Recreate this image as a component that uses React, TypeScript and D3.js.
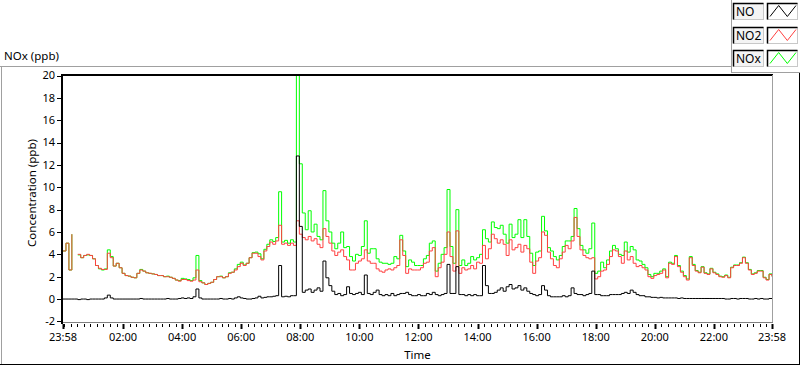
import React from "react";
import * as d3 from "d3";

// ---- data (6-minute samples starting 23:58) ----
const START = new Date(2020, 0, 1, 23, 58);
const END = new Date(2020, 0, 2, 23, 58);
const STEP_MIN = 6;

const NO2: (number | null)[] = [
  4.3, 5.0, 2.6, 5.8, null, 4.0, 3.7, 3.9, 4.0, 3.9,
  3.6, 3.0, 2.75, 2.65, 2.65, 4.1, 3.7, 2.95, 3.2, 2.8,
  2.3, 2.1, 2.05, 1.95, 1.9, 2.3, 2.6, 2.5, 2.35, 2.3,
  2.25, 2.2, 2.1, 2.1, 2.0, 2.0, 1.95, 1.85, 1.7, 1.6,
  1.75, 1.75, 1.65, 1.6, 1.7, 2.6, 1.55, 1.45, 1.3, 1.4,
  1.5, 1.75, 2.0, 2.0, 1.9, 2.0, 2.3, 2.4, 2.6, 2.9,
  3.2, 3.0, 3.2, 3.7, 4.1, 4.1, 3.8, 3.5, 4.3, 4.7,
  5.1, 4.9, 5.2, 6.6, 4.9, 5.0, 4.8, 5.0, 4.8, 7.0,
  5.8, 5.5, 5.3, 5.6, 5.2, 5.4, 4.9, 4.6, 6.3, 5.6,
  5.0, 4.3, 3.9, 4.2, 4.4, 3.8, 3.5, 2.6, 2.6, 3.2,
  3.4, 3.6, 4.4, 3.4, 3.2, 3.2, 2.7, 2.5, 2.4, 2.6,
  2.7, 2.6, 2.8, 3.0, 5.3, 3.9, 2.3, 2.7, 2.6, 2.6,
  2.6, 2.8, 3.2, 3.3, 4.3, 4.6, 2.0, 2.8, 3.3, 4.0,
  6.0, 3.8, 2.5, 6.1, 2.3, 2.8, 2.6, 2.7, 3.0, 2.7,
  3.3, 3.2, 4.8, 3.6, 4.5, 5.8, 5.4, 5.0, 5.3, 4.9,
  3.9, 5.3, 4.4, 4.6, 4.9, 4.2, 4.8, 4.5, 3.3, 2.3,
  3.4, 3.7, 6.0, 5.7, 4.2, 3.6, 3.0, 2.8, 3.6, 4.2,
  4.8, 4.5, 5.2, 7.3, 5.6, 4.4, 3.9, 3.7, 3.6, 3.7,
  1.8, 2.0, 2.5, 2.6, 3.1, 3.8, 4.4, 4.3, 3.8, 3.2,
  4.3, 3.5, 3.8, 3.2, 2.9, 3.0, 2.8, 2.6, 2.0, 1.85,
  2.1, 2.2, 2.3, 2.6, 1.9, 3.2, 3.1, 3.8, 2.9, 2.4,
  2.0, 1.7, 3.7, 3.0, 2.5, 2.35, 2.85, 2.3, 2.2, 2.7,
  2.35, 2.2, 2.0, 1.95, 2.1, 1.9, 2.8, 3.0, 3.0, 3.2,
  3.7, 3.2, 2.6, 2.2, 2.3, 2.5, 2.5, 1.9, 1.7, 2.2, 2.0,
];

const NO: (number | null)[] = [
  0.0, 0.0, 0.0, 0.0, 0.0, -0.05, 0.0, 0.0, -0.05, 0.0,
  0.0, 0.0, 0.0, 0.0, 0.1, 0.35, 0.1, 0.0, 0.0, 0.0,
  0.0, 0.0, 0.0, 0.0, 0.0, 0.0, 0.05, 0.0, 0.0, 0.0,
  0.0, 0.0, 0.0, 0.0, 0.0, 0.05, 0.0, 0.0, 0.0, 0.05,
  0.1, 0.05, 0.1, 0.05, 0.2, 0.9, 0.1, 0.0, 0.0, 0.0,
  0.0, 0.0, 0.0, 0.05, 0.0, 0.0, 0.05, 0.0, 0.1, 0.2,
  0.1, 0.05, 0.0, 0.0, 0.05, 0.1, 0.25, 0.1, 0.15, 0.2,
  0.2, 0.25, 0.3, 3.0, 0.2, 0.25, 0.2, 0.3, 0.3, 12.8,
  6.5, 0.6, 0.8, 0.9, 0.6, 0.8, 1.0, 0.7, 3.4, 1.9,
  1.2, 0.7, 0.4, 0.5, 0.3, 0.4, 1.1, 0.5, 0.4, 0.5,
  0.6, 0.4, 2.15, 0.5, 0.4, 0.6, 0.8, 0.4, 0.3, 0.4,
  0.3, 0.5, 0.3, 0.4, 0.5, 0.5, 0.6, 0.4, 0.3, 0.3,
  0.4, 0.3, 0.3, 0.5, 0.4, 0.6, 0.4, 0.3, 0.4, 0.5,
  3.1, 0.5, 0.5, 2.9, 0.4, 0.4, 0.3, 0.4, 0.3, 0.4,
  0.3, 0.3, 3.0, 1.2, 0.5, 0.5, 0.6, 0.8, 1.0, 0.7,
  1.1, 1.3, 0.9, 1.0, 1.2, 0.8, 1.0, 0.7, 0.5, 0.4,
  0.3, 0.4, 1.2, 0.8, 0.3, 0.2, 0.2, 0.2, 0.2, 0.3,
  0.2, 0.3, 1.0, 0.5, 0.4, 0.4, 0.3, 0.4, 0.5, 2.5,
  0.4, 0.4, 0.3, 0.3, 0.3, 0.4, 0.4, 0.4, 0.4, 0.5,
  0.6, 0.5, 0.8, 0.6, 0.4, 0.3, 0.3, 0.2, 0.2, 0.15,
  0.15, 0.1, 0.15, 0.1, 0.1, 0.1, 0.1, 0.1, 0.05, 0.1,
  0.05, 0.05, 0.05, 0.05, 0.05, 0.05, 0.05, 0.05, 0.05, 0.05,
  0.05, 0.05, 0.05, 0.05, 0.0, 0.0, 0.05, 0.05, 0.0, 0.05,
  0.05, 0.05, 0.0, 0.0, 0.05, 0.0, 0.05, 0.0, 0.0, 0.05, 0.0,
];

const NOX: (number | null)[] = [
  4.3, 5.0, 2.6, 5.8, null, 3.95, 3.7, 3.9, 3.95, 3.9,
  3.6, 3.0, 2.7, 2.6, 2.7, 4.4, 3.8, 2.95, 3.2, 2.8,
  2.3, 2.1, 2.05, 1.95, 1.9, 2.3, 2.65, 2.5, 2.35, 2.3,
  2.25, 2.2, 2.1, 2.1, 2.0, 2.05, 1.95, 1.85, 1.7, 1.65,
  1.85, 1.8, 1.75, 1.65, 1.9, 3.9, 1.65, 1.45, 1.3, 1.4,
  1.5, 1.75, 2.0, 2.05, 1.9, 2.0, 2.35, 2.4, 2.7, 3.1,
  3.3, 3.05, 3.2, 3.7, 4.15, 4.2, 4.05, 3.6, 4.45, 4.9,
  5.3, 5.15, 5.5, 9.6, 5.1, 5.25, 5.0, 5.3, 5.1, 20.0,
  12.1, 7.7, 6.2, 7.9, 6.0, 6.7, 5.6, 5.3, 9.7, 7.0,
  6.0, 5.0, 4.5, 5.0, 6.0, 4.6, 4.7, 3.8, 3.4, 4.0,
  3.9, 4.7, 7.0, 4.1, 4.5, 4.5, 3.6, 3.3, 3.2, 3.2,
  3.1, 3.2, 3.8, 3.6, 5.7, 4.3, 2.9, 3.5, 3.3, 3.0,
  3.0, 3.0, 3.6, 3.9, 5.0, 5.2, 2.5, 3.2, 4.0, 4.6,
  9.8, 4.7, 3.2, 8.0, 3.0, 3.5, 3.0, 3.2, 3.8, 3.5,
  3.7, 4.0, 6.2, 5.4, 5.1, 6.9, 6.4, 6.3, 6.6, 5.8,
  5.0, 6.7, 5.5, 5.8, 7.1, 5.5, 7.1, 5.6, 4.1, 3.0,
  4.2, 4.3, 7.4, 6.1, 4.6, 4.3, 3.8, 3.5, 3.9, 4.7,
  5.2, 5.2, 5.6, 8.1, 6.3, 4.8, 4.4, 4.1, 4.5, 6.8,
  2.3, 2.5, 3.3, 2.8, 3.5, 4.3, 4.8, 4.5, 4.0, 3.9,
  5.1, 4.2, 4.7, 4.4, 3.5, 3.4, 3.1, 2.8, 2.2, 2.0,
  2.3, 2.3, 2.5, 2.7, 2.0, 3.3, 3.2, 3.9, 3.0, 2.5,
  2.1, 1.8, 3.8, 3.1, 2.55, 2.4, 2.9, 2.35, 2.25, 2.75,
  2.4, 2.25, 2.05, 2.0, 2.15, 1.95, 2.85, 3.05, 3.05, 3.25,
  3.75, 3.25, 2.65, 2.25, 2.35, 2.55, 2.55, 1.95, 1.75, 2.25, 2.05,
];

const Y_TICKS = [-2, 0, 2, 4, 6, 8, 10, 12, 14, 16, 18, 20];
const X_TICK_LABELS = ["23:58", "02:00", "04:00", "06:00", "08:00", "10:00", "12:00",
  "14:00", "16:00", "18:00", "20:00", "22:00", "23:58"];
const LEGEND_NAMES = ["NO", "NO2", "NOx"];
const COLORS = { NO: "#000000", NO2: "#ff4040", NOx: "#00ff00" };

const FONT = "'Segoe UI', 'Noto Sans', sans-serif";

export default function App() {
  const left = 63, right = 772, top = 75, bottom = 323;
  const x = d3.scaleTime().domain([START, END]).range([left, right]);
  const y = d3.scaleLinear().domain([-2, 20]).range([321.4, 75.5]);

  const times = NO2.map((_, i) => new Date(START.getTime() + i * STEP_MIN * 60000));
  const mkLine = (vals: (number | null)[]) =>
    d3.line<number | null>()
      .defined((v) => v != null)
      .x((_, i) => x(times[i]))
      .y((v) => y(v as number))
      .curve(d3.curveStepAfter)(vals) || "";

  const majorTimes = X_TICK_LABELS.map((lab, i) => {
    if (i === 0) return START;
    if (i === X_TICK_LABELS.length - 1) return END;
    const [hh, mm] = lab.split(":").map(Number);
    return new Date(2020, 0, 2, hh, mm);
  });
  const minorStep = (120 / 9) * 60000;
  const base = majorTimes[1].getTime();
  const minorTimes: Date[] = [];
  for (let k = -20; k < 120; k++) {
    const t = base + k * minorStep;
    if (t > START.getTime() + 1000 && t < END.getTime() - 1000) minorTimes.push(new Date(t));
  }

  const legendRows = [3, 27, 50];
  const legendColors = [COLORS.NO, COLORS.NO2, COLORS.NOx];

  return (
    <svg width={800} height={365} style={{ position: "fixed", left: 0, top: 0, background: "#fff" }}
      fontFamily={FONT}>
      <defs>
        <clipPath id="plotclip">
          <rect x={left} y={top} width={right - left} height={bottom - top} />
        </clipPath>
      </defs>
      {/* outer frame */}
      <line x1={0} x2={731} y1={66.5} y2={66.5} stroke="#a0a0a0" />
      <line x1={1.5} x2={1.5} y1={66} y2={365} stroke="#a0a0a0" />
      <line x1={0} x2={800} y1={364.5} y2={364.5} stroke="#000" />
      <line x1={799.5} x2={799.5} y1={72} y2={365} stroke="#000" />
      {/* legend panel border */}
      <line x1={731.5} x2={731.5} y1={0} y2={72} stroke="#a0a0a0" />
      <line x1={731} x2={800} y1={72.5} y2={72.5} stroke="#a0a0a0" />

      <text x={4} y={60} fontSize={11.5} fill="#000">NOx (ppb)</text>

      {/* plot area */}
      <rect x={left} y={top} width={right - left} height={bottom - top} fill="#fff" />
      <g clipPath="url(#plotclip)" fill="none" strokeWidth={1}>
        <path d={mkLine(NOX)} stroke={COLORS.NOx} />
        <path d={mkLine(NO2)} stroke={COLORS.NO2} />
        <path d={mkLine(NO)} stroke={COLORS.NO} />
      </g>
      {/* plot borders */}
      <line x1={left} x2={right + 1} y1={75} y2={75} stroke="#000" strokeWidth={2} />
      <line x1={772.5} x2={772.5} y1={75} y2={323} stroke="#a0a0a0" />
      <line x1={left} x2={773} y1={322.5} y2={322.5} stroke="#808080" />
      <line x1={62} x2={62} y1={74} y2={324} stroke="#000" strokeWidth={2} />

      {/* y axis */}
      {Y_TICKS.map((t) => (
        <g key={t}>
          <line x1={57} x2={61} y1={Math.round(y(t)) + 0.5} y2={Math.round(y(t)) + 0.5} stroke="#000" />
          <text x={55} y={y(t)} dy="0.35em" textAnchor="end" fontSize={11} fill="#000">{t}</text>
        </g>
      ))}
      <text transform={`translate(36,193) rotate(-90)`} textAnchor="middle" fontSize={11.5} fill="#000">
        Concentration (ppb)
      </text>

      {/* x axis */}
      {minorTimes.map((t, i) => (
        <line key={"m" + i} x1={Math.round(x(t)) + 0.5} x2={Math.round(x(t)) + 0.5} y1={324} y2={327} stroke="#000" />
      ))}
      {majorTimes.map((t, i) => (
        <g key={"M" + i}>
          <line x1={Math.round(x(t)) + 0.5} x2={Math.round(x(t)) + 0.5} y1={324} y2={329} stroke="#000" strokeWidth={2} />
          <text x={x(t)} y={341} textAnchor="middle" fontSize={11} fill="#000">{X_TICK_LABELS[i]}</text>
        </g>
      ))}
      <text x={(left + right) / 2} y={359} textAnchor="middle" fontSize={11.5} fill="#000">Time</text>

      {/* legend */}
      {LEGEND_NAMES.map((name, i) => {
        const ry = legendRows[i];
        const sx = d3.scaleLinear().domain([0, 3]).range([770, 796]);
        const sy = d3.scaleLinear().domain([0, 1]).range([ry + 13.5, ry + 2.5]);
        const zig = d3.line<number>().x((_, k) => sx(k)).y((v) => sy(v))([0, 1, 0, 1]) || "";
        return (
          <g key={name}>
            <rect x={733.5} y={ry + 0.5} width={30} height={16} fill="#f4f4f4" stroke="#c8c8c8" />
            <path d={`M733.5,${ry + 16.5}V${ry + 0.5}H763.5`} fill="none" stroke="#000" strokeWidth={1.5} />
            <text x={736} y={ry + 13} fontSize={12} fill="#000">{name}</text>
            <rect x={767.5} y={ry + 0.5} width={30} height={16} fill="#fff" stroke="#c8c8c8" />
            <path d={`M767.5,${ry + 16.5}V${ry + 0.5}H797.5`} fill="none" stroke="#000" strokeWidth={1.5} />
            <path d={zig} fill="none" stroke={legendColors[i]} />
          </g>
        );
      })}
    </svg>
  );
}
